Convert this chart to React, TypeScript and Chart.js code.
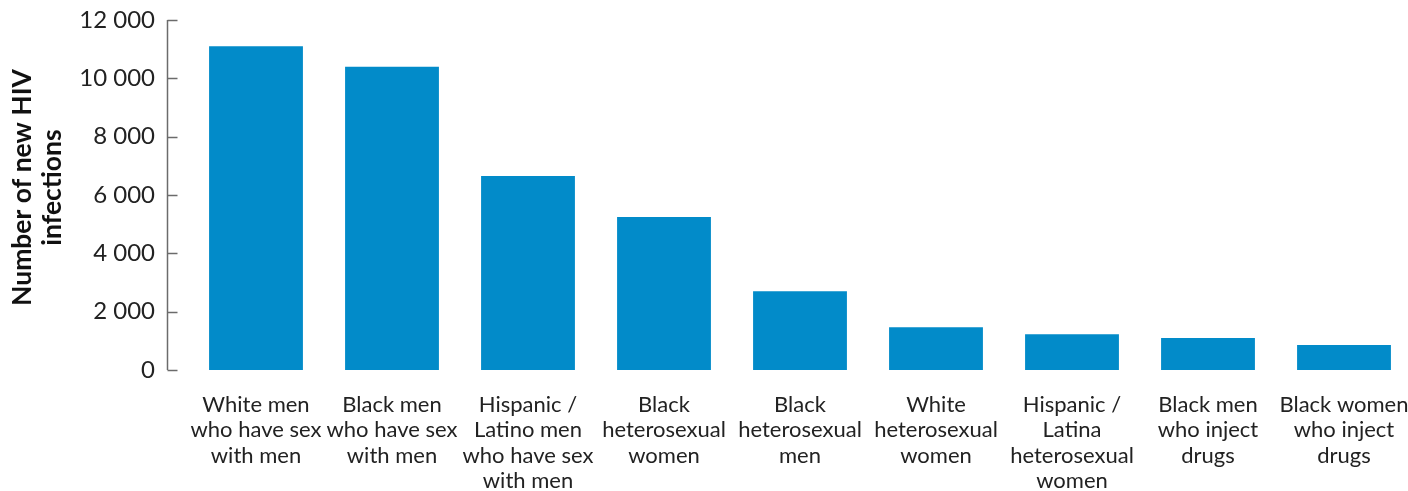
import React, { useEffect, useRef } from "react";
import { Chart, registerables } from "chart.js";

Chart.register(...registerables);

const categories: string[][] = [
  ["White men", "who have sex", "with men"],
  ["Black men", "who have sex", "with men"],
  ["Hispanic /", "Latino men", "who have sex", "with men"],
  ["Black", "heterosexual", "women"],
  ["Black", "heterosexual", "men"],
  ["White", "heterosexual", "women"],
  ["Hispanic /", "Latina", "heterosexual", "women"],
  ["Black men", "who inject", "drugs"],
  ["Black women", "who inject", "drugs"],
];
const newInfections: number[] = [11100, 10400, 6650, 5250, 2700, 1470, 1230, 1100, 860];
const yMax = 12000;
const yStep = 2000;
const yTitle = ["Number of new HIV", "infections"];

const BAR_COLOR = "#028BC9";
const FONT = "Lato, 'Open Sans', sans-serif";

function fmt(n: number): string {
  if (n < 1000) return String(n);
  const th = Math.floor(n / 1000);
  const rest = String(n % 1000).padStart(3, "0");
  return `${th} ${rest}`;
}

const axisPlugin = {
  id: "customYAxis",
  afterDraw(chart: any) {
    const { ctx, chartArea, scales } = chart;
    const y = scales.y;
    const x0 = chartArea.left - 20.5;
    ctx.save();
    ctx.strokeStyle = "#6b6b6b";
    ctx.lineWidth = 1.5;
    ctx.beginPath();
    ctx.moveTo(x0, y.getPixelForValue(yMax));
    ctx.lineTo(x0, y.getPixelForValue(0));
    ctx.stroke();
    for (let v = 0; v <= yMax; v += yStep) {
      const py = Math.round(y.getPixelForValue(v)) + 0.5;
      ctx.beginPath();
      ctx.moveTo(x0, py);
      ctx.lineTo(x0 + 10, py);
      ctx.stroke();
    }
    // axis title
    const cy = (y.top + y.bottom) / 2 - 7.5;
    ctx.translate(22, cy);
    ctx.rotate(-Math.PI / 2);
    ctx.fillStyle = "#111";
    ctx.font = `bold 26.5px ${FONT}`;
    ctx.textAlign = "center";
    ctx.textBaseline = "middle";
    yTitle.forEach((line, i) => ctx.fillText(line, 0, i * 30.5));
    ctx.restore();
  },
};

export default function App() {
  const ref = useRef<HTMLCanvasElement | null>(null);
  useEffect(() => {
    if (!ref.current) return;
    const chart = new Chart(ref.current, {
      type: "bar",
      data: {
        labels: categories,
        datasets: [
          {
            data: newInfections,
            backgroundColor: BAR_COLOR,
            borderWidth: 0,
            categoryPercentage: 1,
            barPercentage: 0.69,
          },
        ],
      },
      options: {
        responsive: false,
        animation: false,
        layout: { padding: { top: 20, left: 0, right: 0, bottom: 0 } },
        plugins: { legend: { display: false }, tooltip: { enabled: false } },
        scales: {
          x: {
            grid: { display: false, drawTicks: false },
            border: { display: false },
            ticks: {
              autoSkip: false,
              maxRotation: 0,
              minRotation: 0,
              padding: 22,
              color: "#222",
              font: { family: FONT, size: 22, lineHeight: 1.16 },
            },
            afterFit: (scale: any) => {
              scale.height = 121;
              scale.paddingLeft = 0;
              scale.paddingRight = 0;
            },
          },
          y: {
            min: 0,
            max: yMax,
            grid: { display: false, drawTicks: false },
            border: { display: false },
            ticks: {
              stepSize: yStep,
              padding: 33,
              color: "#222",
              font: { family: FONT, size: 24 },
              callback: (v: any) => fmt(Number(v)),
            },
            afterFit: (scale: any) => {
              scale.width = 188;
              scale.paddingTop = 0;
              scale.paddingBottom = 0;
            },
          },
        },
      },
      plugins: [axisPlugin],
    });
    return () => chart.destroy();
  }, []);
  return (
    <div style={{ position: "absolute", left: 0, top: 0, width: 1408, height: 491, overflow: "hidden", background: "#fff" }}>
      <canvas ref={ref} width={1412} height={491} style={{ display: "block" }} />
    </div>
  );
}
